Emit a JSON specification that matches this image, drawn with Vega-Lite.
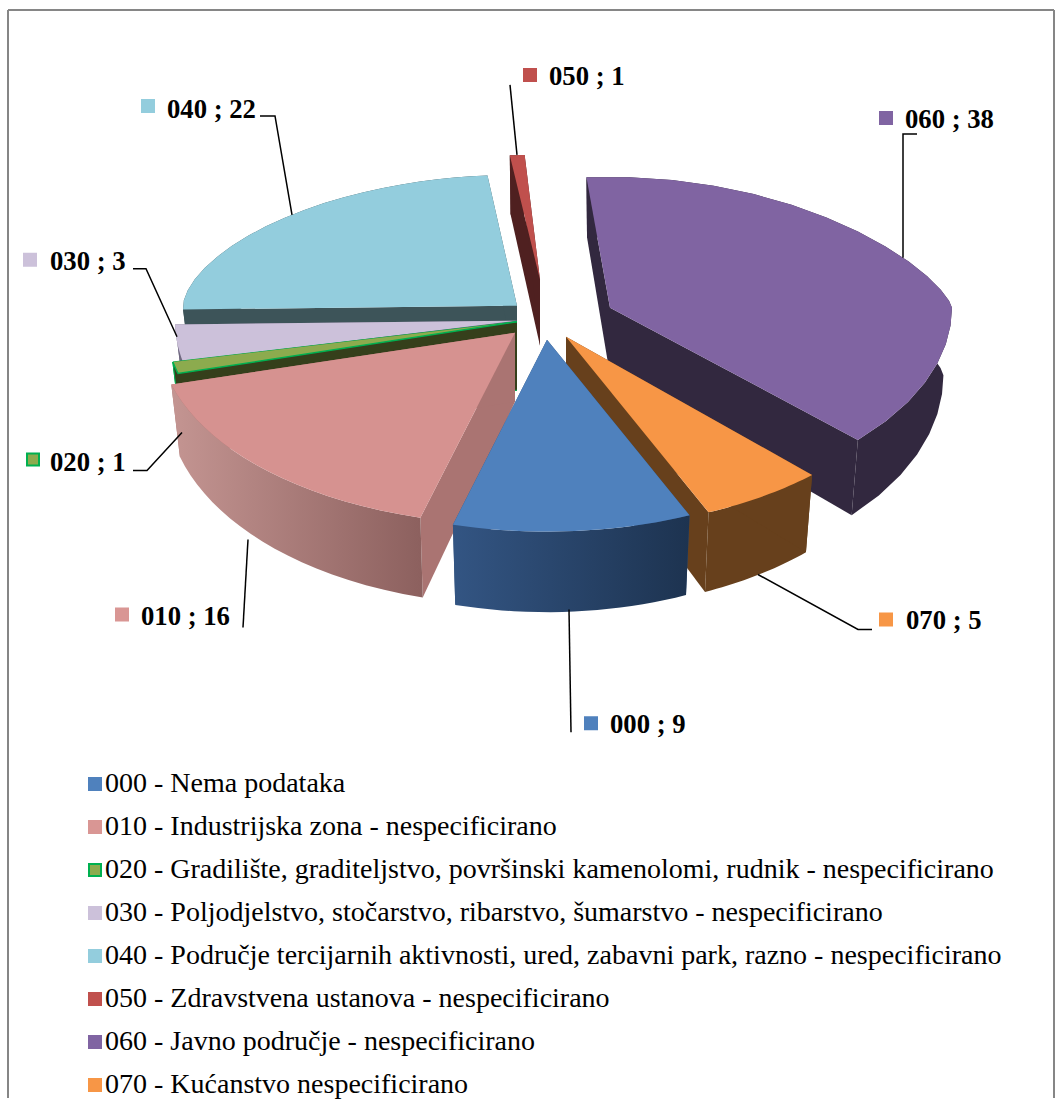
{
"$schema":"https://vega.github.io/schema/vega-lite/v6.json",
"autosize":{"type":"fit","contains":"padding"},"width":1056,"height":1099,"padding":0,"background":"white",
"config":{"view":{"stroke":null}},
"data":{"values":[
{"code":"000","value":9,"label":"000 ; 9","name":"000 - Nema podataka"},
{"code":"010","value":16,"label":"010  ; 16","name":"010 - Industrijska zona - nespecificirano"},
{"code":"020","value":1,"label":"020 ; 1","name":"020 - Gradilište, graditeljstvo, površinski kamenolomi, rudnik - nespecificirano"},
{"code":"030","value":3,"label":"030 ; 3","name":"030 - Poljodjelstvo, stočarstvo, ribarstvo, šumarstvo - nespecificirano"},
{"code":"040","value":22,"label":"040 ; 22","name":"040 - Područje tercijarnih aktivnosti, ured, zabavni park, razno - nespecificirano"},
{"code":"050","value":1,"label":"050 ; 1","name":"050 - Zdravstvena ustanova - nespecificirano"},
{"code":"060","value":38,"label":"060 ; 38","name":"060 - Javno područje - nespecificirano"},
{"code":"070","value":5,"label":"070 ; 5","name":"070 - Kućanstvo nespecificirano"}
]},
"transform":[
{"window":[{"op":"sum","field":"value","as":"cum"}],"sort":[{"field":"code"}]},
{"calculate":"159+datum.cum*360/95","as":"a1"},
{"calculate":"datum.a1-datum.value*360/95","as":"a0"},
{"calculate":"{'000':547,'010':515,'020':517,'030':517,'040':517,'050':540,'060':610,'070':566}[datum.code]","as":"ax"},
{"calculate":"{'000':340,'010':333,'020':322,'030':321,'040':306,'050':280,'060':308,'070':337}[datum.code]","as":"ay"},
{"calculate":"{'000':355,'010':357,'020':352,'030':342,'040':334,'050':342,'060':342,'070':355}[datum.code]","as":"rx"},
{"calculate":"datum.code=='060'?6.6:4","as":"cr"},
{"calculate":"datum.code=='060'?0:10","as":"ct"},
{"calculate":"datum.code=='060'?1.45:datum.code=='040'?1.2:1","as":"pw"},
{"calculate":"[[0,-1,0],[0,0,0],[0,0.05,0],[0,0.1,0],[0,0.15,0],[0,0.2,0],[0,0.25,0],[0,0.3,0],[0,0.35,0],[0,0.4,0],[0,0.45,0],[0,0.5,0],[0,0.55,0],[0,0.6,0],[0,0.65,0],[0,0.7,0],[0,0.75,0],[0,0.8,0],[0,0.85,0],[0,0.9,0],[0,0.95,0],[0,1,0],[1,0,0],[1,0.05,0],[1,0.1,0],[1,0.15,0],[1,0.2,0],[1,0.25,0],[1,0.3,0],[1,0.35,0],[1,0.4,0],[1,0.45,0],[1,0.5,0],[1,0.55,0],[1,0.6,0],[1,0.65,0],[1,0.7,0],[1,0.75,0],[1,0.8,0],[1,0.85,0],[1,0.9,0],[1,0.95,0],[1,1,0],[1,1,1],[1,0.95,1],[1,0.9,1],[1,0.85,1],[1,0.8,1],[1,0.75,1],[1,0.7,1],[1,0.65,1],[1,0.6,1],[1,0.55,1],[1,0.5,1],[1,0.45,1],[1,0.4,1],[1,0.35,1],[1,0.3,1],[1,0.25,1],[1,0.2,1],[1,0.15,1],[1,0.1,1],[1,0.05,1],[1,0,1],[2,-1,0],[2,0,0],[2,0,1],[2,-1,1],[3,-1,0],[3,1,0],[3,1,1],[3,-1,1]]","as":"p"},
{"flatten":["p"]},
{"window":[{"op":"row_number","as":"seq"}],"groupby":["code"]},
{"calculate":"datum.p[0]","as":"part"},
{"calculate":"datum.p[1]","as":"t"},
{"calculate":"datum.p[2]","as":"k"},
{"calculate":"datum.a0+(datum.a1-datum.a0)*datum.t","as":"aa"},
{"calculate":"datum.aa%360","as":"na"},
{"calculate":"(datum.aa+(datum.na>=90&&datum.na<=180?datum.cr*sin(2*datum.na*PI/180):datum.na>180&&datum.na<270?6*sin(2*datum.na*PI/180)*(270-datum.na)/90:-datum.ct*sin(2*datum.na*PI/180)))*PI/180","as":"ang"},
{"calculate":"datum.ax+(datum.t<0?0:datum.rx*sin(datum.ang)*(1-0.025*datum.k))","as":"px"},
{"calculate":"datum.ay+(datum.t<0?0:(cos(datum.ang)>0?-pow(cos(datum.ang),datum.pw)*(datum.code=='050'?125:131):-cos(datum.ang)*192))","as":"by"},
{"calculate":"datum.by+datum.k*(60+(datum.by-175)*0.058)","as":"py"}
],
"encoding":{
"x":{"field":"px","type":"quantitative","scale":{"domain":[0,1056],"nice":false,"zero":false},"axis":null},
"y":{"field":"py","type":"quantitative","scale":{"domain":[0,1099],"nice":false,"zero":false,"reverse":true},"axis":null},
"order":{"field":"seq"},
"detail":{"field":"part"}
},
"layer":[
{"transform":[{"filter":"datum.code=='050'&&datum.part>0"}],"mark":{"type":"line","fill":"#4F2020","stroke":null}},
{"transform":[{"filter":"datum.code=='050'&&datum.part==0"}],"mark":{"type":"line","fill":"#C0504D","stroke":null}},
{"transform":[{"filter":"datum.code=='040'&&datum.part>0"}],"mark":{"type":"line","fill":"#3D5459","stroke":null}},
{"transform":[{"filter":"datum.code=='040'&&datum.part==0"}],"mark":{"type":"line","fill":"#93CDDD","stroke":null}},
{"transform":[{"filter":"datum.code=='030'&&datum.part>0"}],"mark":{"type":"line","fill":"#6F6880","stroke":null}},
{"transform":[{"filter":"datum.code=='030'&&datum.part==0"}],"mark":{"type":"line","fill":"#CCC1DA","stroke":null}},
{"transform":[{"filter":"datum.code=='020'&&datum.part>0"}],"mark":{"type":"line","fill":"#353F1B","stroke":"#00B050","strokeWidth":1}},
{"transform":[{"filter":"datum.code=='020'&&datum.part==0"}],"mark":{"type":"line","fill":"#8CAB4E","stroke":"#00B050","strokeWidth":1.5}},
{"transform":[{"filter":"datum.code=='060'&&datum.part>0"}],"mark":{"type":"line","fill":"#32283F","stroke":null}},
{"transform":[{"filter":"datum.code=='060'&&datum.part==0"}],"mark":{"type":"line","fill":"#8064A2","stroke":null}},
{"transform":[{"filter":"datum.code=='070'&&datum.part>0"}],"mark":{"type":"line","fill":"#67401C","stroke":null}},
{"transform":[{"filter":"datum.code=='070'&&datum.part==0"}],"mark":{"type":"line","fill":"#F79646","stroke":null}},
{"transform":[{"filter":"datum.code=='010'&&datum.part>1"}],"mark":{"type":"line","fill":"#AA7472","stroke":null}},
{"transform":[{"filter":"datum.code=='010'&&datum.part==1"}],"mark":{"type":"line","stroke":null,"fill":{"gradient":"linear","x1":0,"y1":0,"x2":1,"y2":0,"stops":[{"offset":0,"color":"#C49592"},{"offset":1,"color":"#8C605E"}]}}},
{"transform":[{"filter":"datum.code=='010'&&datum.part==0"}],"mark":{"type":"line","fill":"#D69290","stroke":null}},
{"transform":[{"filter":"datum.code=='000'&&datum.part>1"}],"mark":{"type":"line","fill":"#2F4F7A","stroke":null}},
{"transform":[{"filter":"datum.code=='000'&&datum.part==1"}],"mark":{"type":"line","stroke":null,"fill":{"gradient":"linear","x1":0,"y1":0,"x2":1,"y2":0,"stops":[{"offset":0,"color":"#335583"},{"offset":1,"color":"#1D3350"}]}}},
{"transform":[{"filter":"datum.code=='000'&&datum.part==0"}],"mark":{"type":"line","fill":"#4F81BD","stroke":null}},
{"transform":[{"filter":"datum.seq==1"},
{"calculate":"{'000':[[571,733],[569,610]],'010':[[243,628],[248,540]],'020':[[133,471],[147,471],[182,433]],'030':[[133,269],[146,269],[177,337]],'040':[[260,116],[275,116],[292,215]],'050':[[510,85],[517,155]],'060':[[917,134],[903,134],[903,258]],'070':[[872,630],[858,630],[758,575]]}[datum.code]","as":"v"},
{"flatten":["v"]},
{"window":[{"op":"row_number","as":"vi"}],"groupby":["code"]},
{"calculate":"datum.v[0]","as":"vx"},{"calculate":"datum.v[1]","as":"vy"}],
"mark":{"type":"line","color":"black","strokeWidth":1.5},
"encoding":{"x":{"field":"vx","type":"quantitative"},"y":{"field":"vy","type":"quantitative"},"order":{"field":"vi"},"detail":{"field":"code"}}},
{"transform":[{"filter":"datum.seq==1"},
{"calculate":"{'000':591,'010':122,'020':33,'030':30,'040':148,'050':530,'060':886,'070':886}[datum.code]","as":"sx"},
{"calculate":"{'000':724,'010':615,'020':460,'030':260,'040':106,'050':75,'060':118,'070':620}[datum.code]","as":"sy"}],
"mark":{"type":"point","shape":"square","filled":true,"size":144,"strokeWidth":2,"opacity":1},
"encoding":{"x":{"field":"sx","type":"quantitative"},"y":{"field":"sy","type":"quantitative"},"order":null,"detail":null,
"fill":{"field":"name","type":"nominal","sort":null,"scale":{"range":["#4F81BD","#D99694","#8CAB4E","#CCC1DA","#93CDDD","#C0504D","#8064A2","#F79646"]},
"legend":{"title":null,"orient":"none","legendX":81,"legendY":770,"labelFont":"Liberation Serif","labelFontSize":28,"labelColor":"black","labelLimit":1000,"symbolType":"square","symbolSize":144,"symbolStrokeWidth":2,"rowPadding":15,"labelOffset":-4,"symbolOpacity":1}},
"stroke":{"field":"name","type":"nominal","sort":null,"scale":{"range":["#4F81BD","#D99694","#00B050","#CCC1DA","#93CDDD","#C0504D","#8064A2","#F79646"]},
"legend":{"title":null,"orient":"none","legendX":81,"legendY":770,"labelFont":"Liberation Serif","labelFontSize":28,"labelColor":"black","labelLimit":1000,"symbolType":"square","symbolSize":144,"symbolStrokeWidth":2,"rowPadding":15,"labelOffset":-4,"symbolOpacity":1}}}},
{"transform":[{"filter":"datum.seq==1"},
{"calculate":"{'000':610,'010':141,'020':50,'030':50,'040':167,'050':549,'060':905,'070':906}[datum.code]","as":"tx"},
{"calculate":"{'000':726,'010':618,'020':463,'030':262,'040':110,'050':77,'060':120,'070':622}[datum.code]","as":"ty"}],
"mark":{"type":"text","align":"left","baseline":"middle","font":"Liberation Serif","fontWeight":"bold","fontSize":26.7,"color":"black"},
"encoding":{"x":{"field":"tx","type":"quantitative"},"y":{"field":"ty","type":"quantitative"},"order":null,"detail":null,"text":{"field":"label"}}},
{"data":{"values":[{"a":8,"b":10,"c":8,"d":1099},{"a":8,"b":10,"c":1054,"d":10},{"a":1054,"b":10,"c":1054,"d":1099}]},"transform":[],"mark":{"type":"rule","color":"#868686","strokeWidth":2},
"encoding":{"x":{"field":"a","type":"quantitative"},"y":{"field":"b","type":"quantitative"},"x2":{"field":"c"},"y2":{"field":"d"},"order":null,"detail":null}}
]
}
